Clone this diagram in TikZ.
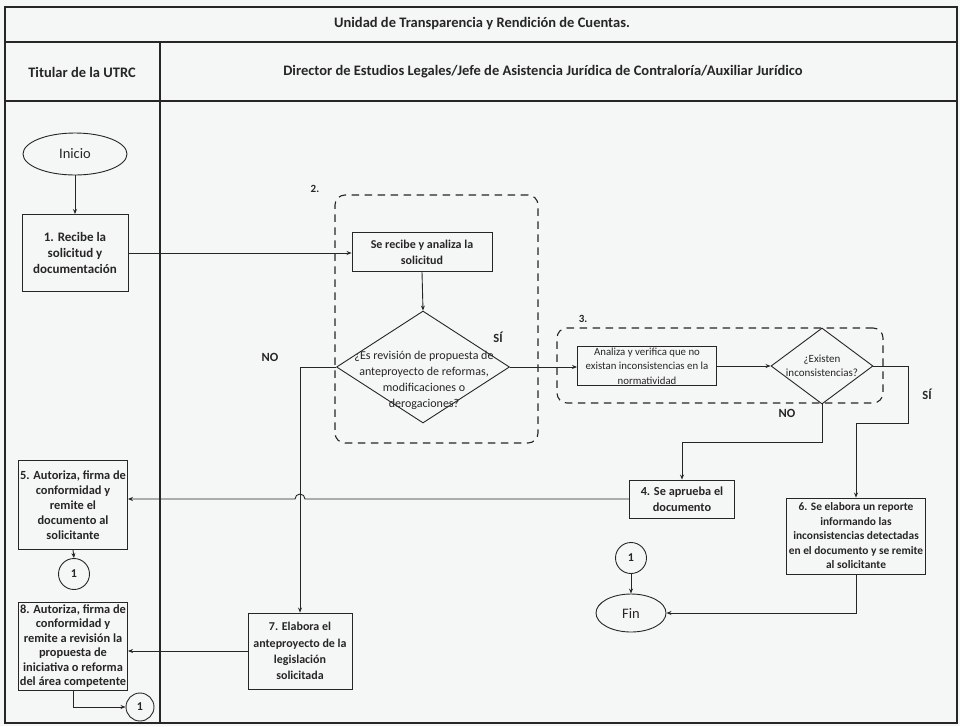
\documentclass[tikz,border=0pt]{standalone}
\usepackage{fontspec}
\setmainfont{Carlito}
\usetikzlibrary{shapes.geometric,arrows.meta,calc}
\definecolor{paper}{RGB}{245,246,246}
\definecolor{ink}{RGB}{38,38,38}

\begin{document}
\begin{tikzpicture}[x=1pt,y=-1pt,
  every node/.style={text=ink},
  bsize/.style 2 args={font=\bfseries\fontsize{#1}{#2}\selectfont},
  rsize/.style 2 args={font=\fontsize{#1}{#2}\selectfont},
  proc/.style={rectangle, draw=ink, line width=0.9pt, align=center, inner sep=1pt},
  term/.style={ellipse, draw=ink, line width=0.9pt, inner sep=0pt, rsize={14.5}{16}},
  conn/.style={circle, draw=ink, line width=0.9pt, inner sep=0pt, minimum size=31pt,
    bsize={12}{13}},
  decision/.style={diamond, draw=ink, line width=0.9pt, inner sep=0pt},
  dtext/.style={align=center, inner sep=0pt},
  grp/.style={rectangle, draw=ink, line width=1.1pt, dash pattern=on 7.5pt off 5.5pt,
    rounded corners=10pt, inner sep=0pt},
  lab/.style={inner sep=0pt, bsize={12.5}{13}},
  head/.style={inner sep=0pt, bsize={14.5}{16}},
  arr/.style={draw=ink, line width=0.9pt, -{Stealth[length=5pt,width=4pt]}},
  lane/.style={draw=ink, line width=1.1pt}]

% page and swimlane frame
\fill[paper] (0,0) rectangle (960,726);
\useasboundingbox (0,0) rectangle (960,726);
\draw[lane] (5,7) rectangle (957,723);
\draw[lane] (5,42) -- (957,42);
\draw[lane] (5,101) -- (957,101);
\draw[lane] (160,42) -- (160,723);

\node[head] (title) at (482,24) {Unidad de Transparencia y Rendición de Cuentas.};
\node[head] (laneA) at (82,72) {Titular de la UTRC};
\node[head] (laneB) at (543,72) {Director de Estudios Legales/Jefe de Asistencia Jurídica de Contraloría/Auxiliar Jurídico};

% dashed groups of steps 2 and 3
\node[grp, minimum width=203pt, minimum height=248pt] (g2) at (436.5,319) {};
\node[grp, minimum width=326pt, minimum height=75pt] (g3) at (720,365.5) {};
\node[lab, bsize={11}{12}] (g2n) at (315,189) {2.};
\node[lab, bsize={11}{12}] (g3n) at (583,319) {3.};

% nodes
\node[term, minimum width=104pt, minimum height=42pt] (inicio) at (75,154) {Inicio};
\node[proc, bsize={13}{16}, minimum width=106pt, minimum height=77pt] (b1) at (75,253)
  {1. Recibe la\\solicitud y\\documentación};
\node[proc, bsize={12}{16}, minimum width=140pt, minimum height=39pt] (b2) at (422,252)
  {Se recibe y analiza la\\solicitud};
\node[decision, minimum width=173pt, minimum height=112pt] (d1) at (423,367) {};
\node[dtext, rsize={12}{16}] (d1t) at (424,380)
  {¿Es revisión de propuesta de\\anteproyecto de reformas,\\modificaciones o\\derogaciones?};
\node[rectangle, draw=ink, line width=0.9pt, minimum width=139pt, minimum height=39pt]
  (b3) at (647,366) {};
\node[dtext, rsize={10.8}{14.5}] (b3t) at (647,366)
  {Analiza y verifica que no\\existan inconsistencias en la\\normatividad};
\node[decision, minimum width=102pt, minimum height=76pt] (d2) at (822,366) {};
\node[dtext, rsize={11}{14}] (d2t) at (822,366) {¿Existen\\inconsistencias?};
\node[proc, bsize={12.3}{15.7}, minimum width=105pt, minimum height=38pt] (b4) at (682,499)
  {4. Se aprueba el\\documento};
\node[proc, bsize={11.4}{14.5}, minimum width=139pt, minimum height=76pt] (b6) at (856,536)
  {6. Se elabora un reporte\\informando las\\inconsistencias detectadas\\en el documento y se remite\\al solicitante};
\node[conn] (c1) at (631,558) {1};
\node[term, minimum width=70pt, minimum height=38pt] (fin) at (631,613) {Fin};
\node[proc, bsize={12.4}{15}, minimum width=109pt, minimum height=89pt] (b5) at (73,505)
  {5. Autoriza, firma de\\conformidad y\\remite el\\documento al\\solicitante};
\node[conn] (c2) at (74,574) {1};
\node[proc, bsize={12}{16.3}, minimum width=104pt, minimum height=76pt] (b7) at (300,651)
  {7. Elabora el\\anteproyecto de la\\legislación\\solicitada};
\node[proc, bsize={12.4}{14.5}, minimum width=109pt, minimum height=88pt] (b8) at (73,646)
  {8. Autoriza, firma de\\conformidad y\\remite a revisión la\\propuesta de\\iniciativa o reforma\\del área competente};
\node[conn, minimum size=28pt] (c3) at (140,707) {1};

% branch labels
\node[lab] (no1) at (270,357) {NO};
\node[lab] (si1) at (498,337) {SÍ};
\node[lab] (si2) at (927,394) {SÍ};
\node[lab] (no2) at (787,413) {NO};

% bends of the routed connectors
\coordinate (k1) at (908,423);
\coordinate (k2) at (822,442);
\coordinate (hop) at (b7.north |- b4.west);

% connectors
\draw[arr] (inicio.south) -- (b1.north);
\draw[arr] (b1.east) -- (b1.east -| b2.west);
\draw[arr] (b2.south) -- (d1.north);
\draw[arr] (d1.east) -- (d1.east -| b3.west);
\draw[arr] (b3.east) -- (b3.east -| d2.west);
\draw[arr] (d1.west) -| (b7.north);
\draw[arr] (d2.east) -| (k1) -| (b6.north);
\draw[arr] (d2.south) -- (k2) -| (b4.north);
\draw[arr] (b4.west) -- ($(hop)+(5,0)$) arc[start angle=0, end angle=180, radius=5pt]
  -- (b4.west -| b5.east);
\draw[arr] (b5.south) -- (c2.north);
\draw[arr] (b6.south) |- (fin.east);
\draw[arr] (c1.south) -- (fin.north);
\draw[arr] (b7.west) -- (b7.west -| b8.east);
\draw[arr] (b8.south) |- (c3.west);

\end{tikzpicture}
\end{document}
